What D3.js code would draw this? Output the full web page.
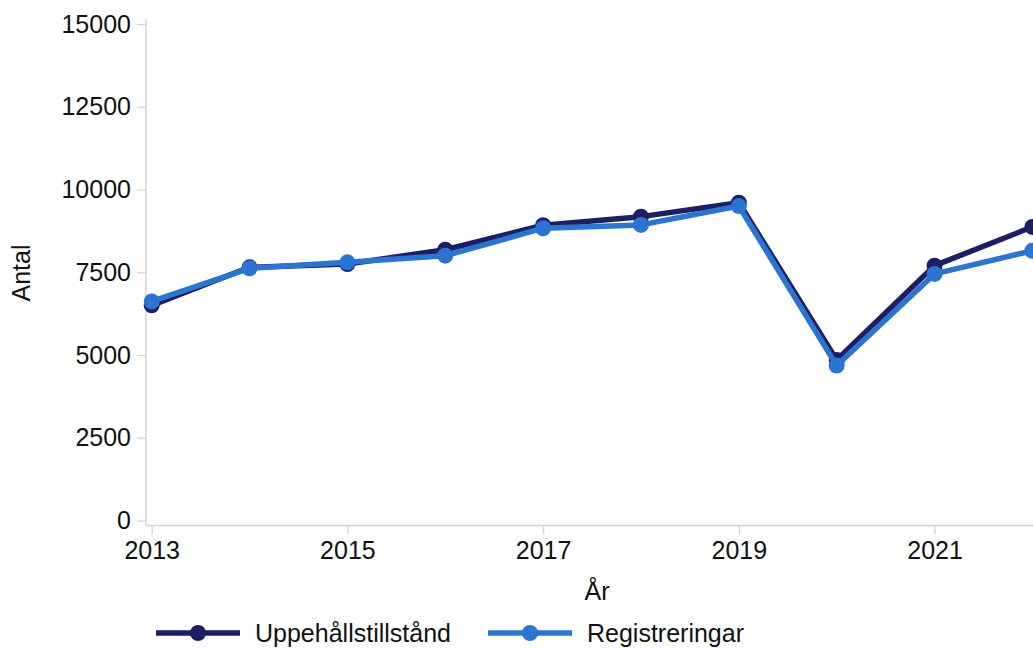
<!DOCTYPE html>
<html>
<head>
<meta charset="utf-8">
<script src="https://cdn.jsdelivr.net/npm/d3@7"></script>
<style>
  body { margin: 0; background: #fff; }
  svg { display: block; font-family: "Liberation Sans", Arial, sans-serif; }
</style>
</head>
<body>
<div id="chart"></div>
<script>
var years = [2013, 2014, 2015, 2016, 2017, 2018, 2019, 2020, 2021, 2022];
var uppehall = [6500, 7650, 7750, 8180, 8920, 9180, 9600, 4850, 7700, 8870];
var registreringar = [6620, 7620, 7800, 8000, 8830, 8930, 9500, 4680, 7450, 8150];
var xTicks = [2013, 2015, 2017, 2019, 2021];
var yTicks = [0, 2500, 5000, 7500, 10000, 12500, 15000];
var seriesNames = ['Uppehållstillstånd', 'Registreringar'];

var WIDTH = 1033;
var HEIGHT = 648;
var FONT_SIZE = 25;
var AXIS_X = 146;      // position of the y axis line
var AXIS_Y = 525.5;    // position of the x axis line
var AXIS_COLOR = '#d4d4d4';
var COLORS = ['#1d1f63', '#2b74d1'];
var LINE_WIDTH = 5.5;
var DOT_RADIUS = 8;

var series = [
  { name: seriesNames[0], values: uppehall, color: COLORS[0] },
  { name: seriesNames[1], values: registreringar, color: COLORS[1] }
];

var svg = d3.select('#chart').append('svg')
  .attr('width', WIDTH)
  .attr('height', HEIGHT);

var xScale = d3.scaleLinear().domain([2013, 2022]).range([151.7, 1032.4]);
var yScale = d3.scaleLinear().domain([0, 15000]).range([520.5, 24]);

/** y axis */
var yAxis = svg.append('g')
  .attr('transform', 'translate(' + AXIS_X + ',0)')
  .call(d3.axisLeft(yScale).tickValues(yTicks).tickSize(9).tickPadding(6)
    .tickFormat(function (d) { return d; }));
yAxis.select('.domain').remove();
yAxis.selectAll('line').attr('stroke', AXIS_COLOR).attr('stroke-width', 1.3);
yAxis.selectAll('text').attr('fill', '#111').style('font-size', FONT_SIZE + 'px')
  .attr('font-family', null);
svg.append('line')
  .attr('x1', AXIS_X).attr('x2', AXIS_X)
  .attr('y1', 19).attr('y2', AXIS_Y)
  .attr('stroke', AXIS_COLOR).attr('stroke-width', 1.5);

/** x axis */
var xAxis = svg.append('g')
  .attr('transform', 'translate(0,' + AXIS_Y + ')')
  .call(d3.axisBottom(xScale).tickValues(xTicks).tickSize(9).tickPadding(7)
    .tickFormat(d3.format('d')));
xAxis.select('.domain').remove();
xAxis.selectAll('line').attr('stroke', AXIS_COLOR).attr('stroke-width', 1.3);
xAxis.selectAll('text').attr('fill', '#111').style('font-size', FONT_SIZE + 'px')
  .attr('font-family', null);
svg.append('line')
  .attr('x1', AXIS_X).attr('x2', WIDTH)
  .attr('y1', AXIS_Y).attr('y2', AXIS_Y)
  .attr('stroke', AXIS_COLOR).attr('stroke-width', 1.5);

/** axis titles */
svg.append('text')
  .attr('x', 597).attr('y', 600)
  .attr('text-anchor', 'middle')
  .style('font-size', FONT_SIZE + 'px')
  .attr('fill', '#111')
  .text('År');
svg.append('text')
  .attr('transform', 'translate(30,273) rotate(-90)')
  .attr('text-anchor', 'middle')
  .style('font-size', FONT_SIZE + 'px')
  .attr('fill', '#111')
  .text('Antal');

/** lines and markers */
var line = d3.line()
  .x(function (d, i) { return xScale(years[i]); })
  .y(function (d) { return yScale(d); });

var groups = svg.selectAll('.series').data(series).enter().append('g')
  .attr('class', 'series');
groups.append('path')
  .attr('d', function (d) { return line(d.values); })
  .attr('fill', 'none')
  .attr('stroke', function (d) { return d.color; })
  .attr('stroke-width', LINE_WIDTH)
  .attr('stroke-linejoin', 'round');
groups.each(function (s) {
  d3.select(this).selectAll('circle').data(s.values).enter().append('circle')
    .attr('cx', function (d, i) { return xScale(years[i]); })
    .attr('cy', function (d) { return yScale(d); })
    .attr('r', DOT_RADIUS)
    .attr('fill', s.color);
});

/** legend */
var legendX = [156, 488];
var legend = svg.selectAll('.legend').data(series).enter().append('g')
  .attr('class', 'legend')
  .attr('transform', function (d, i) { return 'translate(' + legendX[i] + ',633)'; });
legend.append('line')
  .attr('x1', 0).attr('x2', 84)
  .attr('stroke', function (d) { return d.color; })
  .attr('stroke-width', LINE_WIDTH);
legend.append('circle')
  .attr('cx', 42).attr('r', DOT_RADIUS)
  .attr('fill', function (d) { return d.color; });
legend.append('text')
  .attr('x', 99).attr('dy', '0.36em')
  .style('font-size', FONT_SIZE + 'px')
  .attr('fill', '#111')
  .text(function (d) { return d.name; });
</script>
</body>
</html>
